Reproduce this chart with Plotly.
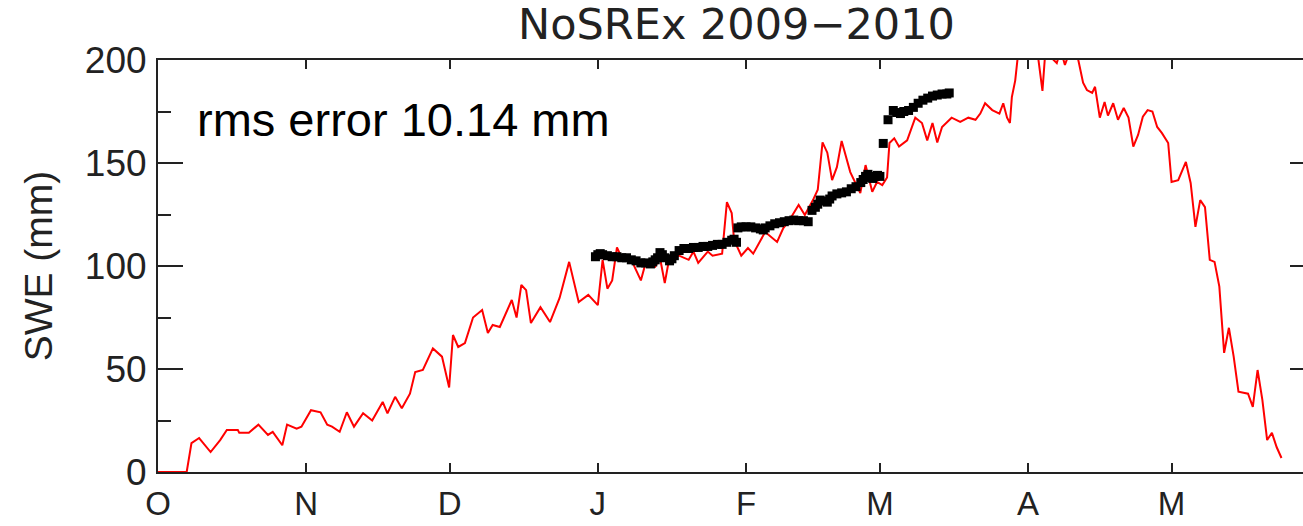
import plotly.graph_objects as go

# Days since 1 October 2009
month_days = [0, 31, 61, 92, 123, 151, 182, 212]
month_labels = ["O", "N", "D", "J", "F", "M", "A", "M"]
swe_ticks = [0, 50, 100, 150, 200]

# Modelled SWE (red line): day, value in mm
model_day = [0, 6, 7, 8.6, 11, 13, 14.4, 16.7, 17, 19, 21, 23, 24, 26, 27, 29, 30, 32, 34,
             35.4, 36.4, 38, 39.5, 41, 42.9, 44.8, 47, 48, 49.6, 51, 52.7, 53.8, 55.4,
             57.5, 59.4, 60.9, 61.7, 62.8, 64.2, 65.9, 67.8, 69, 70, 71.5, 74, 75, 76,
             77, 78, 80, 82, 84, 86, 88, 90, 92, 93, 94, 95, 96, 97, 99, 101, 102, 104,
             105, 106, 107, 109, 111, 112, 113, 115, 116, 118, 119, 120, 120.5, 122,
             123.4, 124.5, 126, 127, 129.5, 130.8, 132, 134, 135.3, 137, 138, 139, 140,
             141, 142, 143, 144.8, 145.8, 146.9, 148, 149.4, 150.4, 151.5, 152.5, 153,
             154, 155, 156.7, 158.4, 159.8, 160.9, 162, 163, 164, 166, 167.8, 169.5,
             171, 172, 173, 174.5, 176, 176.8, 177.6, 178.2, 178.6, 179.3, 180, 182,
             184, 185, 185.6, 188, 188.8, 189.7, 191, 192.5, 193.5, 194.3, 195.4, 196,
             197, 198, 198.7, 199.8, 200.8, 202, 203, 204, 205, 206, 207, 208, 209, 210,
             211.3, 212, 213.4, 215, 216, 216.4, 217, 218, 219, 220, 221, 222, 223, 224,
             225, 226, 228, 229, 230, 231, 232, 233, 234, 235]
model_swe = [0, 0, 14, 16.5, 9.7, 15.5, 20.4, 20.4, 19, 19, 23, 18, 19.5, 13, 23, 21, 22, 30, 29,
             23, 22, 19.5, 29, 22, 28.5, 25, 34, 28.5, 36.5, 31, 38, 48.5, 49.5,
             60, 56, 41, 66.5, 60.7, 62.6, 75, 78.6, 67.5, 71.4, 70.4, 83.5, 75, 90.8,
             88.3, 72.3, 80, 72.8, 84.5, 102, 82.5, 86, 81, 103, 89, 93, 109, 104, 103, 93, 101.5, 99.6,
             104, 91.7, 104.5, 105, 103, 107, 101.5, 107, 105, 106, 131, 125.7, 112.6, 105,
             108.7, 106, 112.6, 116.5, 111.7, 118.4, 122, 129.6, 124.8, 132, 137, 160, 155,
             141.7, 148, 160.7, 145.6, 140.8, 135.4, 149, 136, 140.8, 139.3, 143, 159.7,
             162, 158, 161, 172, 169.4, 161, 169.4, 160, 167.5, 172, 170, 172,
             171, 174, 179, 175.7, 174, 179, 172, 169.4, 182, 190, 205, 210,
             203, 185, 204, 198.5, 205, 197.6, 206, 200, 189, 185.4, 184, 187,
             172, 179.6, 173, 179, 171, 176.7, 172, 158, 163.6, 172.5, 175.7, 175, 167.5, 164.5,
             159.7, 140.8, 141.7, 150.5, 140.3, 130.6, 119, 132, 128.6, 103, 102, 90, 57.8, 70,
             56, 39, 38, 31.6, 49.5, 35, 15.5, 19, 12, 6.8]

# Measured SWE (black squares): day, value in mm
obs_day = [91.5, 92, 92.5, 93, 94, 95, 96, 97, 98, 99, 100, 101, 102, 103, 103.5, 104, 104.5,
           105, 105.5, 106, 107, 107.5, 108, 109, 110, 111, 112, 113, 114, 115, 116, 117,
           118, 119, 120, 120.5, 121,
           121.3, 122, 123, 124, 125, 126, 126.6, 127, 128, 129, 130, 131, 132, 133, 134,
           135, 136,
           136.8, 137.5, 138, 138.5, 139, 140, 140.5, 141, 142, 143, 144, 145, 146, 147,
           147.5, 148, 148.5, 149, 149.5, 150, 150.5, 151,
           151.7, 152.7,
           153.8, 154.5, 155.3, 156, 157, 158, 159, 160, 161, 162, 163, 164, 165, 165.5]
obs_swe = [104.5, 105.5, 106, 105.5, 105, 104.5, 104.5, 104, 104, 103, 102.5, 101.5, 101.5, 101, 102, 103, 104,
           106.5, 105.5, 104, 102.5, 103.5, 105, 107.5, 108.5, 108.5, 109, 109, 109.5, 109.5, 110, 110.5,
           110.5, 111.5, 112.5, 113, 111.5,
           118.5, 119, 119, 119, 118.5, 118, 117.5, 118.5, 119.5, 120.5, 121, 121.5, 122, 122.3, 122,
           122, 121.5,
           127, 128.5, 130, 132, 131.5, 131, 132.5, 134, 135, 135.5, 136, 137.5, 138.5, 140.5,
           142, 143.5, 144.5, 143, 142.5, 143.5, 144, 143.5,
           159.5, 171,
           175.5, 174.5, 174, 175, 175.5, 177, 179, 180.5, 181.5, 182.5, 183, 183.5, 183.5, 184]

INK = "#222222"
AXIS_FONT = dict(family="Liberation Sans", size=37, color=INK)
MONTH_FONT = dict(family="Liberation Sans", size=33, color=INK)

fig = go.Figure()
fig.add_trace(go.Scatter(x=model_day, y=model_swe, mode="lines",
                         line=dict(color="#ff0000", width=2), showlegend=False))
fig.add_trace(go.Scatter(x=obs_day, y=obs_swe, mode="markers", yaxis="y2",
                         marker=dict(symbol="square", size=9, color="#000000", line=dict(width=0)),
                         showlegend=False))

fig.add_annotation(text="rms error 10.14 mm", xref="paper", yref="paper",
                   x=0.032, y=0.855, xanchor="left", yanchor="middle", showarrow=False,
                   font=dict(family="Liberation Sans", size=47, color="#000000"))

fig.update_layout(
    width=1303, height=526,
    margin=dict(l=158, r=0, t=60, b=54),
    paper_bgcolor="white", plot_bgcolor="white",
    title=dict(text="NoSREx 2009\u22122010", x=(158 + 1315) / 2 / 1303, xanchor="center",
               xref="container", y=0.955, yanchor="middle", yref="container",
               font=dict(family="DejaVu Sans", size=43, color=INK)),
    xaxis=dict(range=[0, 239.5], tickvals=month_days, ticktext=month_labels,
               ticks="inside", ticklen=9, tickwidth=2, tickcolor=INK,
               showline=True, linewidth=2, linecolor=INK, mirror="ticks",
               showgrid=False, zeroline=False, tickfont=MONTH_FONT,
               ticklabelstandoff=1, automargin=False),
    yaxis=dict(range=[0, 200], tickvals=swe_ticks,
               ticks="inside", ticklen=25, tickwidth=2, tickcolor=INK,
               minor=dict(dtick=25, ticks="inside", ticklen=13, tickwidth=2, tickcolor=INK),
               showline=True, linewidth=2, linecolor=INK, mirror=False,
               showgrid=False, zeroline=False, tickfont=AXIS_FONT,
               ticklabelstandoff=2, automargin=False,
               title=dict(text="SWE (mm)", font=dict(family="Liberation Sans", size=39, color=INK),
                          standoff=20)),
    # right-hand axis: only the inner tick stubs show at the window edge
    yaxis2=dict(overlaying="y", side="right", matches="y", tickvals=swe_ticks,
                ticks="inside", ticklen=13, tickwidth=2, tickcolor=INK,
                showticklabels=False, showline=False, showgrid=False, zeroline=False,
                automargin=False),
)

fig.write_html("out.html")
